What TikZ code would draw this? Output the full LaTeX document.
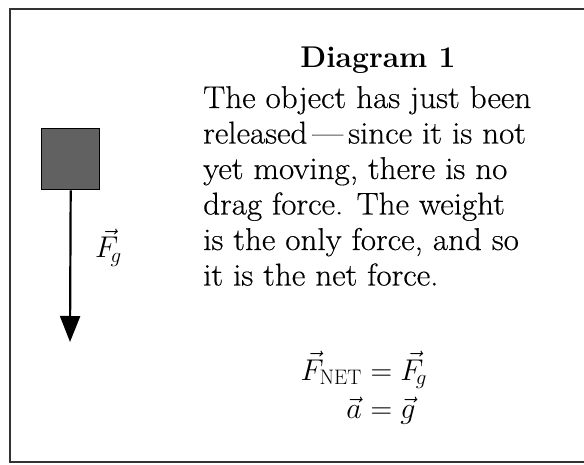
\RequirePackage{fix-cm}
\documentclass[tikz,border=0pt]{standalone}
\usepackage{amsmath}
\usepackage{fontspec}
\newfontfamily\bodyfont{Latin Modern Roman}[Ligatures=TeX,FakeStretch=1.05,FakeBold=0.4]
\usetikzlibrary{arrows.meta}
\begin{document}
\begin{tikzpicture}[x=1pt,y=-1pt,
  frameline/.style={line width=1.6pt,draw=black!80},
  bodytext/.style={font=\bodyfont\fontsize{31.5}{35.5}\selectfont,align=left,inner sep=0pt,anchor=base west},
  eqtext/.style={font=\fontsize{30}{35}\selectfont,inner sep=0pt,anchor=base},
  forcearrow/.style={line width=2.2pt,-{Triangle[width=20pt,length=26pt]}}]
\useasboundingbox (0,0) rectangle (584,465);
\fill[white] (0,0) rectangle (584,465);
% frame
\draw[frameline] (584,9) -- (10,9) -- (10,462) -- (584,462);
% object
\node[draw=black,line width=1.4pt,fill=black!62,minimum width=58pt,minimum height=61pt,inner sep=0pt,anchor=north west] (box) at (41,128) {};
\coordinate (tip) at (70,342);
\draw[forcearrow] (box.south) -- (tip);
\node[font=\fontsize{30}{35}\selectfont,inner sep=0pt,anchor=base west] (fg) at (95,258) {$\vec{F}_{\!g}$};
% title
\node[font=\bfseries\fontsize{30}{35}\selectfont,inner sep=0pt,anchor=base] (title) at (378,68) {Diagram 1};
% paragraph
\node[bodytext] (l1) at (203,108) {The object has just been};
\node[bodytext] (l2) at (203,143.5) {released\,—\,since it is not};
\node[bodytext] (l3) at (203,179) {yet moving, there is no};
\node[bodytext] (l4) at (203,214.5) {drag force. The weight};
\node[bodytext] (l5) at (203,250) {is the only force, and so};
\node[bodytext] (l6) at (203,285.5) {it is the net force.};
% equations
\node[eqtext,anchor=base east] (eq1l) at (362,380) {$\vec{F}_{\mathrm{NET}}$};
\node[eqtext,anchor=base west] (eq1r) at (362,380) {${}=\vec{F}_{\!g}$};
\node[eqtext,anchor=base east] (eq2l) at (362,418) {$\vec{a}$};
\node[eqtext,anchor=base west] (eq2r) at (362,418) {${}=\vec{g}$};
\end{tikzpicture}
\end{document}
